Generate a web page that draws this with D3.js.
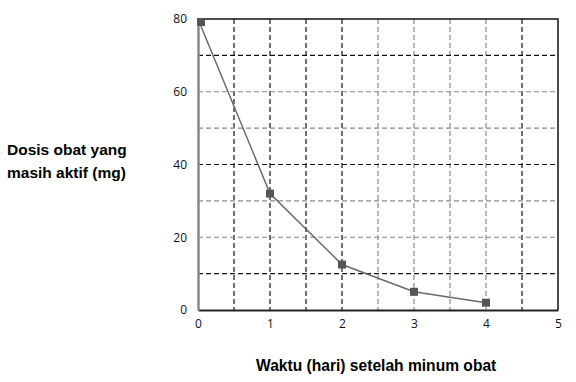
<!DOCTYPE html>
<html>
<head>
<meta charset="utf-8">
<script src="https://cdn.jsdelivr.net/npm/d3@7"></script>
<style>
  body { margin: 0; background: #fff; }
  svg { display: block; }
</style>
</head>
<body>
<div id="chart"></div>
<script>
// data
const days = [0, 1, 2, 3, 4];
const dose = [80, 32, 12.5, 5, 2];
const xTicks = [0, 1, 2, 3, 4, 5];
const yTicks = [0, 20, 40, 60, 80];
// garis grid (hasil scan: sebagian hitam, sebagian abu-abu)
const vGrid = [0.5, 1, 1.5, 2, 2.5, 3, 3.5, 4, 4.5];
const vGridDark = [true, true, true, true, false, false, false, false, true];
const hGrid = [10, 20, 30, 40, 50, 60, 70];
const hGridDark = [true, false, false, true, false, false, true];

const width = 576, height = 382;
const plot = { left: 198, right: 558, top: 19, bottom: 310 };

const svg = d3.select("#chart")
  .append("svg")
  .attr("width", width)
  .attr("height", height);

const x = d3.scaleLinear().domain([0, 5]).range([plot.left, plot.right]);
const y = d3.scaleLinear().domain([0, 80]).range([plot.bottom, plot.top]);

// grid vertikal
svg.append("g").selectAll("line")
  .data(vGrid)
  .join("line")
  .attr("x1", d => x(d)).attr("x2", d => x(d))
  .attr("y1", plot.top).attr("y2", plot.bottom)
  .attr("stroke", (d, i) => vGridDark[i] ? "#111" : "#888")
  .attr("stroke-width", 1.2)
  .attr("stroke-dasharray", "5,3");

// grid horizontal
svg.append("g").selectAll("line")
  .data(hGrid)
  .join("line")
  .attr("x1", plot.left).attr("x2", plot.right)
  .attr("y1", d => y(d)).attr("y2", d => y(d))
  .attr("stroke", (d, i) => hGridDark[i] ? "#111" : "#888")
  .attr("stroke-width", 1.2)
  .attr("stroke-dasharray", "5,3");

// bingkai atas & kanan
svg.append("path")
  .attr("d", `M${plot.left},${plot.top}H${plot.right}V${plot.bottom}`)
  .attr("fill", "none")
  .attr("stroke", "#111")
  .attr("stroke-width", 1.5);

// sumbu X
const gX = svg.append("g")
  .attr("transform", `translate(0,${plot.bottom})`)
  .call(d3.axisBottom(x).tickValues(xTicks).tickSize(0).tickPadding(9).tickFormat(d3.format("d")));
gX.select(".domain").attr("stroke", "#222").attr("stroke-width", 2);
gX.selectAll("text").attr("font-family", "'Open Sans', sans-serif").attr("font-size", 12).attr("fill", "#111");

// sumbu Y
const gY = svg.append("g")
  .attr("transform", `translate(${plot.left},0)`)
  .call(d3.axisLeft(y).tickValues(yTicks).tickSize(0).tickPadding(11).tickFormat(d3.format("d")));
gY.select(".domain").attr("stroke", "#888").attr("stroke-width", 2.5);
gY.selectAll("text").attr("font-family", "'Open Sans', sans-serif").attr("font-size", 12).attr("fill", "#111");

// kurva
const line = d3.line()
  .x((d, i) => x(days[i]))
  .y(d => y(d))
  .curve(d3.curveLinear);

svg.append("path")
  .datum(dose)
  .attr("fill", "none")
  .attr("stroke", "#6a6a6a")
  .attr("stroke-width", 1.5)
  .attr("d", line);

svg.append("g").selectAll("rect")
  .data(dose)
  .join("rect")
  .attr("x", (d, i) => x(days[i]) - 4 + (i === 0 ? 3 : 0))
  .attr("y", d => y(d) - 4 + (d === 80 ? 3 : 0))
  .attr("width", 8)
  .attr("height", 8)
  .attr("fill", "#555");

// judul sumbu
const yTitle = svg.append("text")
  .attr("font-family", "'Liberation Sans', Arial, sans-serif")
  .attr("font-weight", "bold")
  .attr("font-size", 15.5)
  .attr("fill", "#000");
yTitle.append("tspan").attr("x", 7).attr("y", 155).text("Dosis obat yang");
yTitle.append("tspan").attr("x", 7).attr("y", 178).text("masih aktif (mg)");

svg.append("text")
  .attr("x", 256)
  .attr("y", 371)
  .attr("font-family", "'Liberation Sans', Arial, sans-serif")
  .attr("font-weight", "bold")
  .attr("font-size", 15.6)
  .attr("fill", "#000")
  .text("Waktu (hari) setelah minum obat");
</script>
</body>
</html>
